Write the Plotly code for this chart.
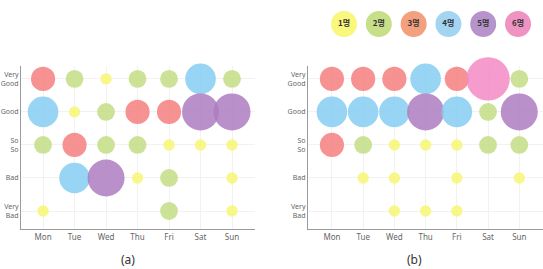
import plotly.graph_objects as go

days = ["Mon", "Tue", "Wed", "Thu", "Fri", "Sat", "Sun"]
moods = ["Very Bad", "Bad", "So So", "Good", "Very Good"]
mood_labels = ["Very<br>Bad", "Bad", "So<br>So", "Good", "Very<br>Good"]

# counts per mood (rows: Very Good, Good, So So, Bad, Very Bad), columns Mon..Sun; 0 = none
a_very_good = [3, 2, 1, 2, 2, 4, 2]
a_good      = [4, 1, 2, 3, 3, 5, 5]
a_so_so     = [2, 3, 2, 2, 1, 1, 1]
a_bad       = [0, 4, 5, 1, 2, 0, 1]
a_very_bad  = [1, 0, 0, 0, 2, 0, 1]

b_very_good = [3, 3, 3, 4, 3, 6, 2]
b_good      = [4, 4, 4, 5, 4, 2, 5]
b_so_so     = [3, 2, 1, 1, 1, 2, 2]
b_bad       = [0, 1, 1, 0, 1, 0, 1]
b_very_bad  = [0, 0, 1, 1, 1, 0, 0]

legend_labels = ["1명", "2명", "3명", "4명", "5명", "6명"]
colors = {1: "#f7f674", 2: "#c3dd84", 3: "#f4807f", 4: "#86cef2", 5: "#ad7cc0", 6: "#f589c4"}
legend_colors = ["#f9f77c", "#c6df88", "#f3a07e", "#a3d4f2", "#b694cb", "#ee93c2"]


def size_of(v):
    return 5 + 6.4 * v


fig = go.Figure()


def add_panel(rows, xa, ya):
    xs, ys, ss, cs = [], [], [], []
    for mood, vals in zip(["Very Good", "Good", "So So", "Bad", "Very Bad"], rows):
        for d, v in zip(days, vals):
            if v > 0:
                xs.append(days.index(d))
                ys.append(moods.index(mood))
                ss.append(size_of(v))
                cs.append(colors[v])
    fig.add_trace(go.Scatter(
        x=xs, y=ys, mode="markers", xaxis=xa, yaxis=ya,
        marker=dict(size=ss, color=cs, opacity=0.85, line=dict(width=0)),
        cliponaxis=False, showlegend=False, hoverinfo="skip"))


add_panel([a_very_good, a_good, a_so_so, a_bad, a_very_bad], "x", "y")
add_panel([b_very_good, b_good, b_so_so, b_bad, b_very_bad], "x2", "y2")

fig.add_trace(go.Scatter(
    x=list(range(len(legend_labels))), y=[0] * len(legend_labels),
    mode="markers+text", text=["<b>%s</b>" % t for t in legend_labels], textposition="middle center",
    textfont=dict(size=8, color="#333333", family="Noto Sans CJK KR"),
    marker=dict(size=26, color=legend_colors, line=dict(width=0)),
    xaxis="x3", yaxis="y3", cliponaxis=False, showlegend=False, hoverinfo="skip"))

ax_common = dict(showgrid=True, gridcolor="#f2f2f2", gridwidth=1, zeroline=False,
                 showline=True, linecolor="#9a9a9a", linewidth=1, ticks="",
                 tickfont=dict(size=8, color="#666666", family="Noto Sans"))
ytf = dict(size=7, color="#666666", family="Noto Sans")
tickx = dict(tickmode="array", tickvals=list(range(7)), ticktext=days)
ticky = dict(tickmode="array", tickvals=list(range(5)), ticktext=mood_labels)

fig.update_layout(
    width=543, height=269, margin=dict(l=0, r=0, t=0, b=0),
    paper_bgcolor="white", plot_bgcolor="white",
    xaxis=dict(domain=[0.0387, 0.4696], range=[-0.70, 6.73], anchor="y", **tickx, **ax_common),
    yaxis=dict(domain=[0.1487, 0.7546], range=[-0.545, 4.39], anchor="x", **ticky,
               **{**ax_common, "tickfont": ytf}),
    xaxis2=dict(domain=[0.567, 1.0], range=[-0.77, 6.76], anchor="y2", **tickx, **ax_common),
    yaxis2=dict(domain=[0.1487, 0.7546], range=[-0.545, 4.39], anchor="x2", **ticky,
                **{**ax_common, "tickfont": ytf}),
    xaxis3=dict(domain=[0, 1], range=[-9.885, 5.718], visible=False, anchor="y3"),
    yaxis3=dict(domain=[0.8, 1.0], range=[-0.554, 0.446], visible=False, anchor="x3"),
)
for txt, px in [("(a)", 128), ("(b)", 414)]:
    fig.add_annotation(text=txt, x=px / 543, y=1 - 259 / 269, xref="paper", yref="paper",
                       xanchor="center", yanchor="middle", showarrow=False,
                       font=dict(size=12, color="#333333", family="Noto Sans"))

fig.write_html("out.html")
